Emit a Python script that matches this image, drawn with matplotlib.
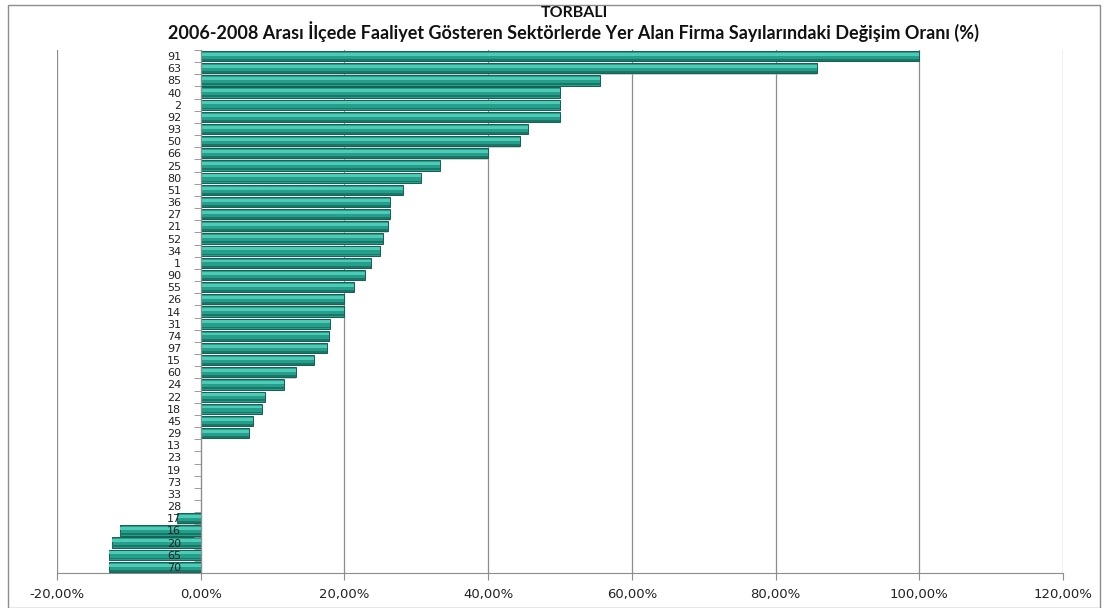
import matplotlib
matplotlib.use("Agg")
import matplotlib.pyplot as plt
import numpy as np
from matplotlib.patches import Rectangle

plt.rcParams["font.family"] = ["DejaVu Sans"]

# sector codes (top to bottom) and change rate in %
sectors = ["91", "63", "85", "40", "2", "92", "93", "50", "66", "25", "80", "51",
           "36", "27", "21", "52", "34", "1", "90", "55", "26", "14", "31", "74",
           "97", "15", "60", "24", "22", "18", "45", "29", "13", "23", "19", "73",
           "33", "28", "17", "16", "20", "65", "70"]
change = [100.0, 85.7, 55.5, 50.0, 50.0, 50.0, 45.5, 44.4, 40.0, 33.3, 30.7, 28.2,
          26.4, 26.4, 26.0, 25.4, 25.0, 23.7, 22.9, 21.3, 20.0, 19.9, 18.0, 17.9,
          17.6, 15.8, 13.2, 11.6, 8.9, 8.5, 7.3, 6.7, 0.0, 0.0, 0.0, 0.0,
          0.0, 0.0, -3.3, -11.3, -12.3, -12.7, -12.7]
xticks = [-20, 0, 20, 40, 60, 80, 100, 120]

title1 = "TORBALI"
title2 = "2006-2008 Arası İlçede Faaliyet Gösteren Sektörlerde Yer Alan Firma Sayılarındaki Değişim Oranı (%)"

fig = plt.figure(figsize=(11.04, 6.08), dpi=100)
fig.patches.append(Rectangle((8 / 1104, 0.0), 1092 / 1104, 1 - 5 / 608,
                             transform=fig.transFigure, fill=False,
                             edgecolor="#8c8c8c", linewidth=1.0))
ax = fig.add_axes([57 / 1104, 1 - 573 / 608, (1063 - 57) / 1104, (573 - 50) / 608])

y = np.arange(len(sectors))
vals = np.array(change)

# grid behind everything
for xt in xticks:
    ax.axvline(xt, color="#8c8c8c", linewidth=0.9, zorder=0.5)

# shadow, body, highlight to fake the 3d bevel
ax.barh(y + 0.1, vals, height=0.84, color="#a8a8a8", alpha=0.55, zorder=1.2)
ax.barh(y, vals, height=0.84, color="#259e8b", edgecolor="#145f53", linewidth=0.7, zorder=1.5)
ax.barh(y - 0.15, vals, height=0.24, color="#4ecbb6", linewidth=0, zorder=1.6)
ax.barh(y + 0.31, vals, height=0.15, color="#1a7667", linewidth=0, zorder=1.6)

ax.set_ylim(len(sectors) - 0.5, -0.5)
ax.set_xlim(-20, 120)
ax.set_axisbelow(False)

ax.set_xticks(xticks)
ax.set_xticklabels([("%.2f%%" % v).replace(".", ",") for v in xticks])
ax.tick_params(axis="x", length=5, color="#8c8c8c", pad=6, labelsize=9.5,
               labelcolor="#222222")

ax.set_yticks(y)
ax.set_yticklabels(sectors)
ax.set_yticks(np.arange(len(sectors) + 1) - 0.5, minor=True)
ax.tick_params(axis="y", which="major", length=0, pad=14, labelsize=8,
               labelcolor="#222222")
ax.tick_params(axis="y", which="minor", length=5, color="#8c8c8c")

ax.spines["left"].set_position(("data", 0))
ax.spines["left"].set_color("#8c8c8c")
ax.spines["bottom"].set_color("#8c8c8c")
ax.spines["top"].set_visible(False)
ax.spines["right"].set_visible(False)

fig.text(574 / 1104, 1 - 13 / 608, title1, ha="center", va="center", fontsize=11.5,
         fontweight="bold", family="Lato", color="#111111")
fig.text(574 / 1104, 1 - 32 / 608, title2, ha="center", va="center", fontsize=13,
         fontweight="bold", family="Lato", color="#111111")

fig.savefig("out.png", dpi=100)
